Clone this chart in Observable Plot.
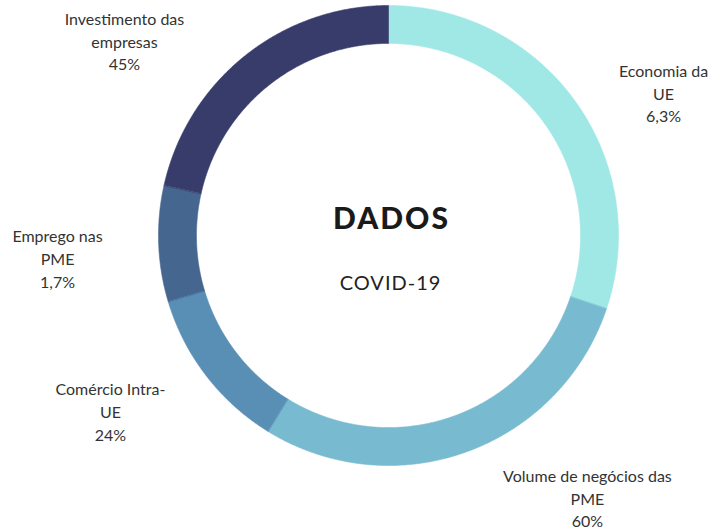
<!DOCTYPE html>
<html>
<head>
<meta charset="utf-8">
<script src="https://cdn.jsdelivr.net/npm/d3@7"></script>
<script src="https://cdn.jsdelivr.net/npm/@observablehq/plot@0.6"></script>
<style>
  html, body { margin: 0; padding: 0; background: #ffffff; }
  #chart svg { display: block; }
</style>
</head>
<body>
<div id="chart"></div>
<script>
// ---- data ----
const categories = ["Economia da UE", "Volume de negócios das PME", "Comércio Intra-UE", "Emprego nas PME", "Investimento das empresas"];
// arc sizes as drawn (degrees, estimated)
const arcSizes = [108.6, 103.0, 41.7, 29.3, 77.4];
const labelLines = [["Economia da", "UE"], ["Volume de negócios das", "PME"], ["Comércio Intra-", "UE"], ["Emprego nas", "PME"], ["Investimento das", "empresas"]];
const labelValues = ["6,3%", "60%", "24%", "1,7%", "45%"];
const sliceColors = ["#a0e8e6", "#78bad0", "#5a8fb5", "#45668f", "#383c6b"];

// ---- layout ----
const W = 713, H = 531;
const cx = 388, cy = 235, R = 230;           // pixel centre and outer radius
const inner = 0.835;                          // inner radius ratio
// label anchor positions in radius units (layout only)
const labelX = [1.196, 0.865, -1.209, -1.439, -1.148];
const labelY = [0.622, -1.139, -0.761, -0.096, 0.848];

const pie = d3.pie().sort(null).value(d => d)(arcSizes);
const pts = [];
pie.forEach((p, i) => {
  const n = Math.max(8, Math.ceil((p.endAngle - p.startAngle) / 0.005));
  for (let k = 0; k <= n; k++) {
    const a = p.startAngle + (p.endAngle - p.startAngle) * k / n;
    pts.push({slice: categories[i], x: Math.sin(a), y: Math.cos(a)});
  }
  for (let k = n; k >= 0; k--) {
    const a = p.startAngle + (p.endAngle - p.startAngle) * k / n;
    pts.push({slice: categories[i], x: inner * Math.sin(a), y: inner * Math.cos(a)});
  }
});

const labels = categories.map((c, i) => ({
  x: labelX[i], y: labelY[i], text: labelLines[i].join("\n") + "\n" + labelValues[i]
}));

const chart = Plot.plot({
  width: W, height: H,
  margin: 0,
  x: {domain: [-cx / R, (W - cx) / R], range: [0, W], axis: null},
  y: {domain: [cy / R, -(H - cy) / R], range: [0, H], axis: null},
  color: {domain: categories, range: sliceColors},
  style: {fontFamily: "Lato, 'Open Sans', sans-serif", background: "#ffffff"},
  marks: [
    Plot.line(pts, {x: "x", y: "y", z: "slice", fill: "slice", stroke: "slice", strokeWidth: 0.6, curve: "linear-closed"}),
    Plot.text(labels, {x: "x", y: "y", text: "text", fontSize: 16, lineHeight: 1.42, fill: "#333333", textAnchor: "middle", lineAnchor: "middle"}),
    Plot.text(["DADOS"], {x: [0], y: [0], text: d => d, dx: 3, dy: -16, fontSize: 30, fontWeight: 900, fill: "#1a1a1a", textAnchor: "middle", lineAnchor: "middle"}),
    Plot.text(["COVID-19"], {x: [0], y: [0], text: d => d, dx: 2, dy: 48, fontSize: 20, fontWeight: 400, fill: "#222222", textAnchor: "middle", lineAnchor: "middle"})
  ]
});
d3.select(chart).selectAll("text").filter(function() { return this.textContent === "DADOS"; }).style("letter-spacing", "2px");
d3.select(chart).selectAll("text").filter(function() { return this.textContent === "COVID-19"; }).style("letter-spacing", "1px");
document.getElementById("chart").appendChild(chart);
</script>
</body>
</html>
